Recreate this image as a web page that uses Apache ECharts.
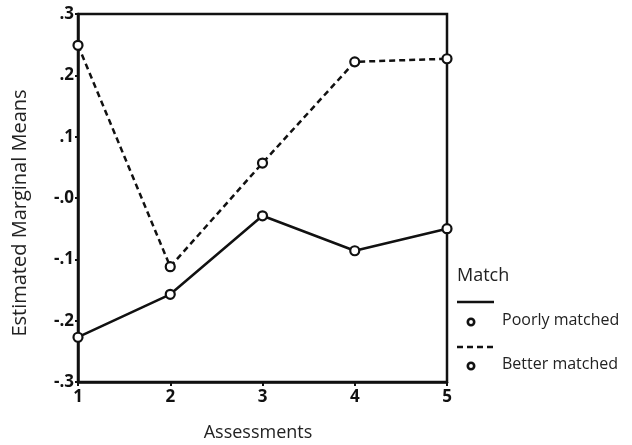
<!DOCTYPE html>
<html><head><meta charset="utf-8">
<script src="https://cdn.jsdelivr.net/npm/echarts@6/dist/echarts.min.js"></script>
<style>html,body{margin:0;padding:0;background:#fff}#c{width:632px;height:445px}</style>
</head><body><div id="c"></div>
<script>
var assessments = [1, 2, 3, 4, 5];
var poorlyMatched = [-0.227, -0.157, -0.029, -0.086, -0.050];
var betterMatched = [0.249, -0.112, 0.057, 0.222, 0.227];
var yTicks = {"0.3": ".3", "0.2": ".2", "0.1": ".1", "0": "-.0", "-0.1": "-.1", "-0.2": "-.2", "-0.3": "-.3"};

var font = '"Open Sans", "DejaVu Sans", sans-serif';
function pairs(ys){ return assessments.map(function(x,i){ return [x, ys[i]]; }); }

var chart = echarts.init(document.getElementById('c'));
var L = 457;
chart.setOption({
  animation: false,
  backgroundColor: '#fff',
  grid: {left: 78, top: 14, right: 185, bottom: 63, containLabel: false, outerBoundsMode: 'none',
         show: true, borderColor: '#111', borderWidth: 2.5, backgroundColor: 'transparent'},
  xAxis: {
    type: 'value', min: 1, max: 5, interval: 1,
    axisLine: {onZero: false, lineStyle: {color: '#111', width: 2.5}},
    axisTick: {show: true, length: 4, lineStyle: {color: '#111', width: 2}},
    axisLabel: {fontFamily: font, fontSize: 17, color: '#111', fontWeight: 'bold', margin: 7},
    splitLine: {show: false}
  },
  yAxis: {
    type: 'value', min: -0.3, max: 0.3, interval: 0.1,
    axisLine: {show: true, onZero: false, lineStyle: {color: '#111', width: 2.5}},
    axisTick: {show: true, length: 3, lineStyle: {color: '#111', width: 2}},
    axisLabel: {fontFamily: font, fontSize: 17, color: '#111', fontWeight: 'bold', margin: 4,
      formatter: function(v){ var k = String(Math.round(v*10)/10); return yTicks[k] !== undefined ? yTicks[k] : k; }},
    splitLine: {show: false}
  },
  series: [
    {name: 'Poorly matched', type: 'line', data: pairs(poorlyMatched),
     symbol: 'circle', symbolSize: 9, showAllSymbol: true,
     lineStyle: {color: '#111', width: 2.5, type: 'solid'},
     itemStyle: {color: '#fff', borderColor: '#111', borderWidth: 2.2}},
    {name: 'Better matched', type: 'line', data: pairs(betterMatched),
     symbol: 'circle', symbolSize: 9, showAllSymbol: true,
     lineStyle: {color: '#111', width: 2.5, type: [6, 4]},
     itemStyle: {color: '#fff', borderColor: '#111', borderWidth: 2.2}}
  ],
  graphic: [
    {type: 'text', x: 258, y: 433, style: {text: 'Assessments', font: '18px ' + font, fill: '#222', align: 'center', verticalAlign: 'middle'}},
    {type: 'text', x: 20, y: 213, rotation: Math.PI / 2, style: {text: 'Estimated Marginal Means', font: '20px ' + font, fill: '#222', align: 'center', verticalAlign: 'middle'}},
    {type: 'text', left: L, top: 267, style: {text: 'Match', font: '18px ' + font, fill: '#222'}},
    {type: 'line', shape: {x1: L, y1: 302, x2: L + 37, y2: 302}, style: {stroke: '#111', lineWidth: 2.5}},
    {type: 'circle', shape: {cx: L + 14, cy: 322, r: 3.2}, style: {fill: '#fff', stroke: '#111', lineWidth: 2.6}},
    {type: 'text', left: L + 45, top: 312, style: {text: 'Poorly matched', font: '16px ' + font, fill: '#222'}},
    {type: 'line', shape: {x1: L, y1: 347, x2: L + 37, y2: 347}, style: {stroke: '#111', lineWidth: 2.5, lineDash: [6, 4]}},
    {type: 'circle', shape: {cx: L + 14, cy: 366, r: 3.2}, style: {fill: '#fff', stroke: '#111', lineWidth: 2.6}},
    {type: 'text', left: L + 45, top: 356, style: {text: 'Better matched', font: '16px ' + font, fill: '#222'}}
  ]
});
</script></body></html>
